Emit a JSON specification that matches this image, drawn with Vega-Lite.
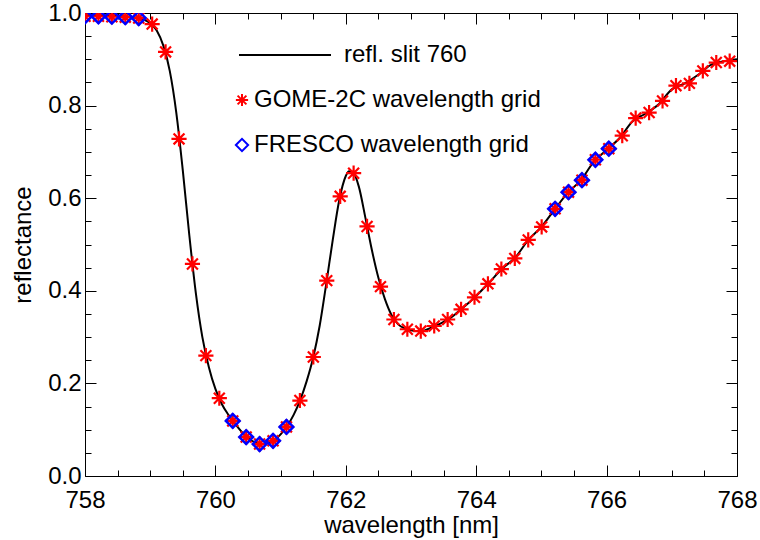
{
  "$schema": "https://vega.github.io/schema/vega-lite/v6.json",
  "width": 652,
  "height": 463,
  "autosize": "none",
  "padding": {"left": 85, "top": 13, "right": 23, "bottom": 64},
  "background": "white",
  "datasets": {
    "slit": [
      {"w": 758.0, "r": 0.995}, {"w": 758.2, "r": 0.995}, {"w": 758.4, "r": 0.994}, {"w": 758.6, "r": 0.993},
      {"w": 758.8, "r": 0.990}, {"w": 758.9, "r": 0.986}, {"w": 759.0, "r": 0.978}, {"w": 759.1, "r": 0.962},
      {"w": 759.2, "r": 0.930}, {"w": 759.3, "r": 0.875}, {"w": 759.4, "r": 0.785}, {"w": 759.5, "r": 0.660},
      {"w": 759.6, "r": 0.520}, {"w": 759.7, "r": 0.395}, {"w": 759.8, "r": 0.300}, {"w": 759.9, "r": 0.235},
      {"w": 760.0, "r": 0.188}, {"w": 760.1, "r": 0.155}, {"w": 760.2, "r": 0.132}, {"w": 760.3, "r": 0.113},
      {"w": 760.4, "r": 0.096}, {"w": 760.5, "r": 0.082}, {"w": 760.6, "r": 0.073}, {"w": 760.7, "r": 0.069},
      {"w": 760.8, "r": 0.071}, {"w": 760.9, "r": 0.077}, {"w": 761.0, "r": 0.090}, {"w": 761.1, "r": 0.108},
      {"w": 761.2, "r": 0.132}, {"w": 761.3, "r": 0.164}, {"w": 761.4, "r": 0.205}, {"w": 761.5, "r": 0.256},
      {"w": 761.6, "r": 0.325}, {"w": 761.7, "r": 0.415}, {"w": 761.8, "r": 0.510}, {"w": 761.9, "r": 0.596},
      {"w": 762.0, "r": 0.648}, {"w": 762.05, "r": 0.658}, {"w": 762.1, "r": 0.657}, {"w": 762.2, "r": 0.625},
      {"w": 762.3, "r": 0.558}, {"w": 762.4, "r": 0.488}, {"w": 762.5, "r": 0.428}, {"w": 762.6, "r": 0.382},
      {"w": 762.7, "r": 0.348}, {"w": 762.8, "r": 0.328}, {"w": 762.9, "r": 0.319}, {"w": 763.0, "r": 0.315},
      {"w": 763.1, "r": 0.313}, {"w": 763.2, "r": 0.314}, {"w": 763.3, "r": 0.320}, {"w": 763.4, "r": 0.326},
      {"w": 763.5, "r": 0.333}, {"w": 763.6, "r": 0.341}, {"w": 763.7, "r": 0.352}, {"w": 763.8, "r": 0.364},
      {"w": 763.9, "r": 0.376}, {"w": 764.0, "r": 0.389}, {"w": 764.2, "r": 0.418}, {"w": 764.4, "r": 0.448},
      {"w": 764.6, "r": 0.472}, {"w": 764.8, "r": 0.510}, {"w": 765.0, "r": 0.538}, {"w": 765.2, "r": 0.575},
      {"w": 765.4, "r": 0.611}, {"w": 765.6, "r": 0.638}, {"w": 765.8, "r": 0.678}, {"w": 766.0, "r": 0.704},
      {"w": 766.2, "r": 0.730}, {"w": 766.4, "r": 0.766}, {"w": 766.6, "r": 0.783}, {"w": 766.8, "r": 0.803},
      {"w": 767.0, "r": 0.835}, {"w": 767.2, "r": 0.848}, {"w": 767.4, "r": 0.866}, {"w": 767.6, "r": 0.888},
      {"w": 767.8, "r": 0.896}, {"w": 768.0, "r": 0.900}
    ],
    "gome": [
      {"w": 758.000, "r": 0.993}, {"w": 758.206, "r": 0.993}, {"w": 758.412, "r": 0.992}, {"w": 758.618, "r": 0.991},
      {"w": 758.824, "r": 0.989}, {"w": 759.030, "r": 0.976}, {"w": 759.236, "r": 0.916}, {"w": 759.442, "r": 0.728},
      {"w": 759.648, "r": 0.458}, {"w": 759.854, "r": 0.260}, {"w": 760.060, "r": 0.168}, {"w": 760.266, "r": 0.119},
      {"w": 760.472, "r": 0.084}, {"w": 760.678, "r": 0.069}, {"w": 760.884, "r": 0.076}, {"w": 761.090, "r": 0.106},
      {"w": 761.296, "r": 0.163}, {"w": 761.502, "r": 0.257}, {"w": 761.708, "r": 0.422}, {"w": 761.914, "r": 0.604},
      {"w": 762.120, "r": 0.654}, {"w": 762.326, "r": 0.539}, {"w": 762.532, "r": 0.409}, {"w": 762.738, "r": 0.338},
      {"w": 762.944, "r": 0.317}, {"w": 763.150, "r": 0.313}, {"w": 763.356, "r": 0.324}, {"w": 763.562, "r": 0.338},
      {"w": 763.768, "r": 0.360}, {"w": 763.974, "r": 0.386}, {"w": 764.180, "r": 0.415}, {"w": 764.386, "r": 0.447},
      {"w": 764.592, "r": 0.470}, {"w": 764.798, "r": 0.510}, {"w": 765.004, "r": 0.538}, {"w": 765.210, "r": 0.577},
      {"w": 765.416, "r": 0.613}, {"w": 765.622, "r": 0.639}, {"w": 765.828, "r": 0.683}, {"w": 766.034, "r": 0.707},
      {"w": 766.240, "r": 0.735}, {"w": 766.446, "r": 0.773}, {"w": 766.652, "r": 0.785}, {"w": 766.858, "r": 0.810},
      {"w": 767.064, "r": 0.843}, {"w": 767.270, "r": 0.848}, {"w": 767.476, "r": 0.875}, {"w": 767.682, "r": 0.893},
      {"w": 767.888, "r": 0.896}
    ],
    "fresco": [
      {"w": 758.000, "r": 0.993}, {"w": 758.206, "r": 0.993}, {"w": 758.412, "r": 0.992}, {"w": 758.618, "r": 0.991},
      {"w": 758.824, "r": 0.989},
      {"w": 760.266, "r": 0.119}, {"w": 760.472, "r": 0.084}, {"w": 760.678, "r": 0.069}, {"w": 760.884, "r": 0.076},
      {"w": 761.090, "r": 0.106},
      {"w": 765.210, "r": 0.577}, {"w": 765.416, "r": 0.613}, {"w": 765.622, "r": 0.639}, {"w": 765.828, "r": 0.683},
      {"w": 766.034, "r": 0.707}
    ]
  },
  "layer": [
    {
      "data": {"name": "slit"},
      "transform": [{"calculate": "'refl. slit 760'", "as": "series"}],
      "mark": {"type": "line", "strokeWidth": 2, "interpolate": "monotone"},
      "encoding": {
        "x": {"field": "w", "type": "quantitative", "scale": {"domain": [758, 768], "nice": false, "zero": false},
          "axis": {"orient": "bottom", "values": [758, 760, 762, 764, 766, 768], "format": "d", "tickSize": -11, "labelPadding": 23, "labelFlush": false, "title": "wavelength [nm]", "titlePadding": 1}},
        "y": {"field": "r", "type": "quantitative", "scale": {"domain": [0, 1], "nice": false, "zero": false},
          "axis": {"orient": "left", "values": [0, 0.2, 0.4, 0.6, 0.8, 1.0], "format": ".1f", "tickSize": -11, "labelPadding": 15, "labelFlush": false, "title": "reflectance", "titlePadding": 12}},
        "color": {"field": "series", "type": "nominal", "scale": {"domain": ["refl. slit 760"], "range": ["black"]},
          "legend": {"orient": "none", "legendX": 153, "legendY": -5, "symbolType": "stroke", "symbolSize": 8464, "symbolStrokeWidth": 2, "labelOffset": 12, "padding": 0, "title": null}}
      }
    },
    {
      "data": {"name": "gome"},
      "transform": [{"calculate": "'GOME-2C wavelength grid'", "as": "series"}],
      "mark": {"type": "point", "filled": false, "strokeWidth": 2.2, "size": 230, "opacity": 1, "clip": true},
      "encoding": {
        "x": {"field": "w", "type": "quantitative",
          "axis": {"orient": "bottom", "values": [758.5, 759, 759.5, 760.5, 761, 761.5, 762.5, 763, 763.5, 764.5, 765, 765.5, 766.5, 767, 767.5], "tickSize": -6, "labels": false, "title": null}},
        "y": {"field": "r", "type": "quantitative",
          "axis": {"orient": "left", "values": [0.05, 0.1, 0.15, 0.25, 0.3, 0.35, 0.45, 0.5, 0.55, 0.65, 0.7, 0.75, 0.85, 0.9, 0.95], "tickSize": -6, "labels": false, "title": null}},
        "stroke": {"field": "series", "type": "nominal", "scale": {"domain": ["GOME-2C wavelength grid", "FRESCO wavelength grid"], "range": ["#ff0000", "#0000ff"]},
          "legend": {"orient": "none", "legendX": 145, "legendY": 75, "symbolSize": 150, "symbolStrokeWidth": 2, "labelOffset": 0, "rowPadding": 21, "padding": 0, "title": null}},
        "shape": {"field": "series", "type": "nominal", "scale": {"domain": ["GOME-2C wavelength grid", "FRESCO wavelength grid"], "range": ["M0,-1L0,1M-1,0L1,0M-0.72,-0.72L0.72,0.72M-0.72,0.72L0.72,-0.72", "diamond"]},
          "legend": {"orient": "none", "legendX": 145, "legendY": 75, "symbolSize": 150, "symbolStrokeWidth": 2, "labelOffset": 0, "rowPadding": 21, "padding": 0, "title": null}}
      }
    },
    {
      "data": {"name": "fresco"},
      "transform": [{"calculate": "'FRESCO wavelength grid'", "as": "series"}],
      "mark": {"type": "point", "filled": false, "strokeWidth": 2.5, "size": 190, "opacity": 1, "clip": true},
      "encoding": {
        "x": {"field": "w", "type": "quantitative",
          "axis": {"orient": "top", "values": [758, 760, 762, 764, 766, 768], "tickSize": -11, "labels": false, "title": null}},
        "y": {"field": "r", "type": "quantitative",
          "axis": {"orient": "right", "values": [0, 0.2, 0.4, 0.6, 0.8, 1.0], "tickSize": -11, "labels": false, "title": null}},
        "stroke": {"field": "series", "type": "nominal",
          "legend": {"orient": "none", "legendX": 145, "legendY": 75, "symbolSize": 150, "symbolStrokeWidth": 2, "labelOffset": 0, "rowPadding": 21, "padding": 0, "title": null}},
        "shape": {"field": "series", "type": "nominal",
          "legend": {"orient": "none", "legendX": 145, "legendY": 75, "symbolSize": 150, "symbolStrokeWidth": 2, "labelOffset": 0, "rowPadding": 21, "padding": 0, "title": null}}
      }
    },
    {
      "data": {"name": "slit"},
      "mark": {"type": "line", "opacity": 0},
      "encoding": {
        "x": {"field": "w", "type": "quantitative",
          "axis": {"orient": "top", "values": [758.5, 759, 759.5, 760.5, 761, 761.5, 762.5, 763, 763.5, 764.5, 765, 765.5, 766.5, 767, 767.5], "tickSize": -6, "labels": false, "title": null}},
        "y": {"field": "r", "type": "quantitative",
          "axis": {"orient": "right", "values": [0.05, 0.1, 0.15, 0.25, 0.3, 0.35, 0.45, 0.5, 0.55, 0.65, 0.7, 0.75, 0.85, 0.9, 0.95], "tickSize": -6, "labels": false, "title": null}}
      }
    }
  ],
  "resolve": {"axis": {"x": "independent", "y": "independent"}},
  "config": {
    "font": "Liberation Sans",
    "view": {"stroke": "#000000", "strokeWidth": 1},
    "axis": {"domain": false, "grid": false, "tickColor": "#000000", "tickWidth": 1, "labelFont": "Liberation Sans", "labelFontSize": 24, "labelColor": "#000000", "titleFont": "Liberation Sans", "titleFontSize": 24, "titleFontWeight": "normal", "titleColor": "#000000"},
    "legend": {"labelFont": "Liberation Sans", "labelFontSize": 24, "labelColor": "#000000", "labelLimit": 0}
  }
}
